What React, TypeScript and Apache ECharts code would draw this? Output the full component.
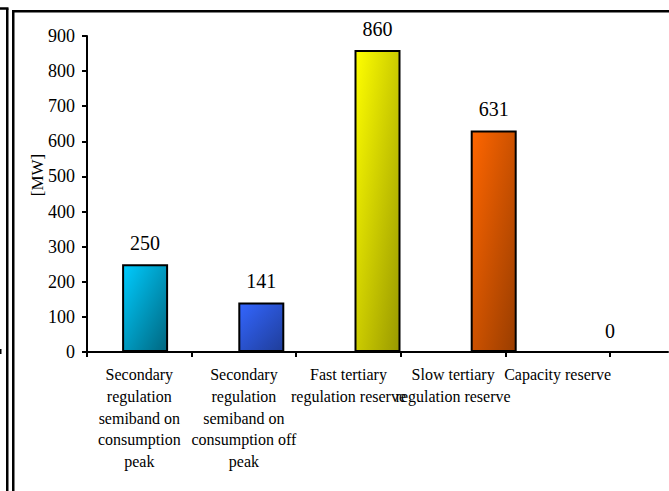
import React, { useEffect, useRef } from "react";
import * as echarts from "echarts";

const categories = [
  "Secondary\nregulation\nsemiband on\nconsumption\npeak",
  "Secondary\nregulation\nsemiband on\nconsumption off\npeak",
  "Fast tertiary\nregulation reserve",
  "Slow tertiary\nregulation reserve",
  "Capacity reserve",
];
const values = [250, 141, 860, 631, 0];
const lightColors = ["#00CCFF", "#3366FF", "#FFFF00", "#FF6600", "#999999"];
const darkColors = ["#00667F", "#1F3D99", "#999900", "#993D00", "#555555"];
const yMax = 900;
const yInterval = 100;

const FONT = "'Liberation Serif', 'Times New Roman', serif";

export default function App() {
  const ref = useRef<HTMLDivElement>(null);
  useEffect(() => {
    if (!ref.current) return;
    const chart = echarts.init(ref.current, undefined, { renderer: "svg" });
    const barData = values.map((v, i) => ({
      value: v,
      itemStyle: {
        color: new echarts.graphic.LinearGradient(0, 0, 1, 1, [
          { offset: 0, color: lightColors[i] },
          { offset: 1, color: darkColors[i] },
        ]),
        borderWidth: v === 0 ? 0 : 2,
        borderColor: "#000",
      },
    }));
    chart.setOption({
      animation: false,
      backgroundColor: "#fff",
      textStyle: { fontFamily: FONT, color: "#000" },
      grid: [
        { left: 87, right: 1, top: 36, bottom: 139 },
        { left: 87, width: 523, top: 36, bottom: 139 },
      ],
      xAxis: [
        {
          type: "category",
          gridIndex: 0,
          data: categories,
          axisLine: { lineStyle: { color: "#000", width: 2 } },
          axisTick: { show: false },
          axisLabel: { show: false },
        },
        {
          type: "category",
          gridIndex: 1,
          data: categories,
          axisLine: { show: false },
          axisTick: { show: true, length: 5, lineStyle: { color: "#000", width: 2 } },
          axisLabel: {
            interval: 0,
            margin: 12,
            fontSize: 16,
            lineHeight: 21.7,
            color: "#000",
            fontFamily: FONT,
          },
        },
      ],
      yAxis: [
        {
          type: "value",
          gridIndex: 0,
          min: 0,
          max: yMax,
          interval: yInterval,
          name: "[MW]",
          nameLocation: "middle",
          nameGap: 41,
          nameMoveOverlap: false,
          nameTextStyle: { fontSize: 17, color: "#000", fontFamily: FONT, padding: [0, 0, 0, 38] },
          axisLine: { show: true, lineStyle: { color: "#000", width: 2 } },
          axisTick: { show: true, length: 5, lineStyle: { color: "#000", width: 2 } },
          axisLabel: { fontSize: 18, color: "#000", margin: 12, fontFamily: FONT },
          splitLine: { show: false },
        },
        {
          type: "value",
          gridIndex: 1,
          min: 0,
          max: yMax,
          show: false,
        },
      ],
      series: [
        {
          type: "bar",
          xAxisIndex: 0,
          yAxisIndex: 0,
          data: barData,
          barWidth: 46,
          label: {
            show: true,
            position: "top",
            distance: 11,
            fontSize: 20,
            color: "#000",
            fontFamily: FONT,
          },
        },
      ],
      graphic: [
        { type: "line", shape: { x1: 13.25, y1: 11.25, x2: 13.25, y2: 491 }, style: { stroke: "#000", lineWidth: 2.5 } },
        { type: "line", shape: { x1: 12, y1: 11.25, x2: 669, y2: 11.25 }, style: { stroke: "#000", lineWidth: 2.5 } },
        { type: "line", shape: { x1: 7.25, y1: 8.5, x2: 7.25, y2: 491 }, style: { stroke: "#000", lineWidth: 2.5 } },
        { type: "line", shape: { x1: 0, y1: 8.5, x2: 8.5, y2: 8.5 }, style: { stroke: "#000", lineWidth: 2.5 } },
        { type: "rect", shape: { x: 0, y: 349, width: 1.5, height: 5 }, style: { fill: "#000" } },
      ],
    });
    return () => chart.dispose();
  }, []);
  return (
    <div
      ref={ref}
      style={{ position: "absolute", left: 0, top: 0, width: 669, height: 491 }}
    />
  );
}
